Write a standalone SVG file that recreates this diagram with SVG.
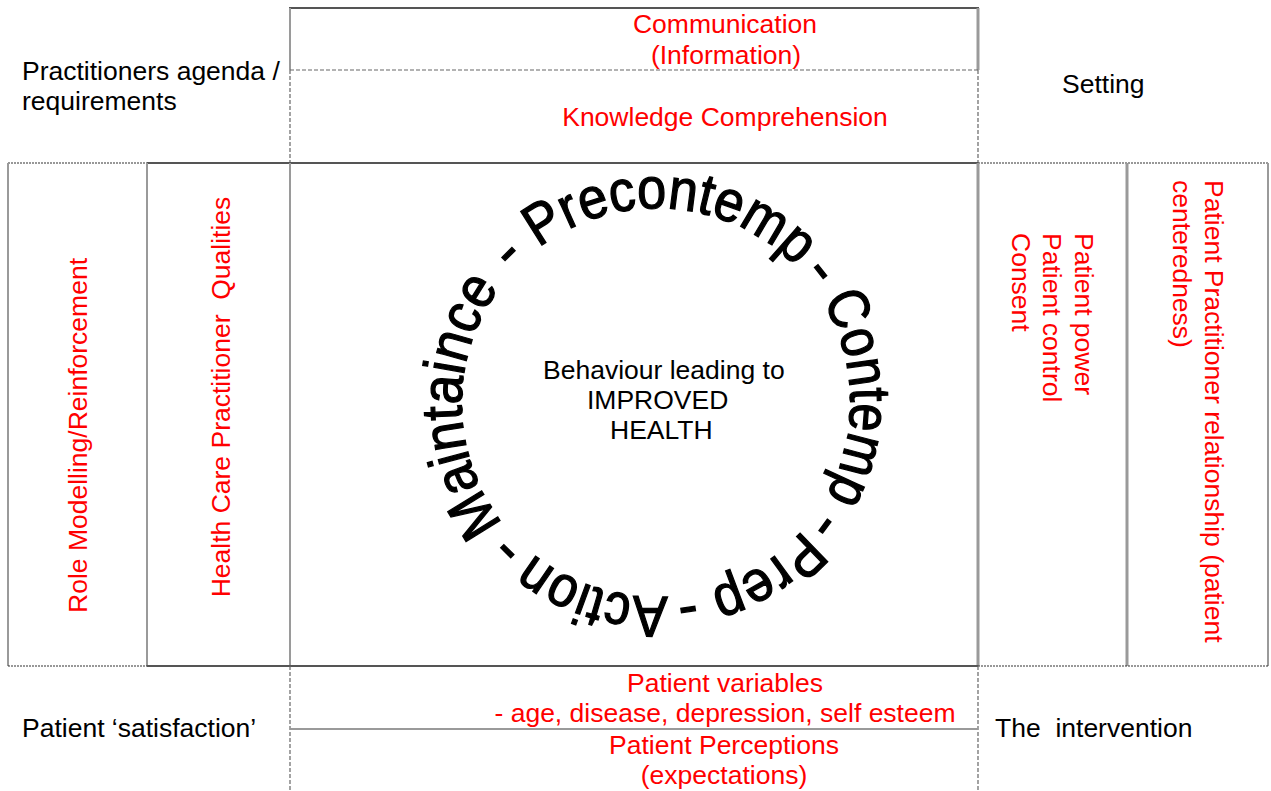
<svg xmlns="http://www.w3.org/2000/svg" width="1271" height="791" viewBox="0 0 1271 791">
<defs>
<style>
.t{font-family:"Liberation Sans",Arial,sans-serif;font-size:26.5px;fill:#000}
.r{fill:#ff0000}
.c{text-anchor:middle}
.solid{stroke:#555;stroke-width:2;fill:none}
.gray{stroke:#9a9a9a;stroke-width:2;fill:none}
.thick{stroke:#9a9a9a;stroke-width:3;fill:none}
.dot{stroke:#333;stroke-width:1.2;stroke-dasharray:2 1;fill:none}
.dash{stroke:#666;stroke-width:1.2;stroke-dasharray:4 2;fill:none}
.ring{font-family:"Liberation Sans",Arial,sans-serif;font-size:58px;fill:#000;stroke:#000;stroke-width:1.3;text-anchor:middle}
</style>
<path id="ringPath" d="M798.6,269.5 A195,195 0 0 1 513.4,535.5 A195,195 0 0 1 798.6,269.5"/>
</defs>
<rect width="1271" height="791" fill="#fff"/>
<g id="frame">
<line class="solid" x1="289" y1="8" x2="979" y2="8"/>
<line class="gray" x1="290" y1="8" x2="290" y2="70"/>
<line class="thick" x1="978" y1="8" x2="978" y2="70"/>
<line class="dash" x1="290" y1="70" x2="978" y2="70"/>
<line class="dash" x1="290" y1="70" x2="290" y2="163"/>
<line class="dash" x1="978" y1="70" x2="978" y2="163"/>
<line class="dot" x1="8" y1="163" x2="147" y2="163"/>
<line class="solid" x1="147" y1="163" x2="978" y2="163"/>
<line class="dot" x1="978" y1="163" x2="1268" y2="163"/>
<line class="gray" x1="8" y1="163" x2="8" y2="666"/>
<line class="gray" x1="147" y1="163" x2="147" y2="666"/>
<line class="gray" x1="290" y1="163" x2="290" y2="666"/>
<line class="thick" x1="978" y1="163" x2="978" y2="666"/>
<line class="thick" x1="1127" y1="163" x2="1127" y2="666"/>
<line class="gray" x1="1268" y1="163" x2="1268" y2="666"/>
<line class="dot" x1="8" y1="666" x2="147" y2="666"/>
<line class="solid" x1="147" y1="666" x2="978" y2="666"/>
<line class="dot" x1="978" y1="666" x2="1268" y2="666"/>
<line class="dash" x1="290" y1="666" x2="290" y2="791"/>
<line class="dash" x1="978" y1="666" x2="978" y2="791"/>
<line class="gray" x1="290" y1="729" x2="978" y2="729"/>
</g>
<g id="connectors"/>
<g id="practitioners-agenda">
<text class="t" x="22" y="80">Practitioners agenda /</text>
<text class="t" x="22" y="110">requirements</text>
</g>
<g id="communication">
<text class="t r c" x="725" y="33">Communication</text>
<text class="t r c" x="726" y="64">(Information)</text>
</g>
<g id="knowledge">
<text class="t r c" x="725" y="126">Knowledge Comprehension</text>
</g>
<g id="setting">
<text class="t" x="1062" y="93">Setting</text>
</g>
<g id="role-modelling">
<text class="t r c" transform="translate(87,435.5) rotate(-90)" x="0" y="0">Role Modelling/Reinforcement</text>
</g>
<g id="hcp-qualities">
<text class="t r c" transform="translate(229.5,397) rotate(-90)" x="0" y="0" xml:space="preserve">Health Care Practitioner  Qualities</text>
</g>
<g id="patient-power">
<text class="t r" transform="translate(1075,233) rotate(90)"><tspan x="0" y="0">Patient power</tspan><tspan x="0" y="31.7">Patient control</tspan><tspan x="0" y="63.4">Consent</tspan></text>
</g>
<g id="patient-relationship">
<text class="t r" transform="translate(1205,180) rotate(90)"><tspan x="0" y="0">Patient Practitioner relationship (patient</tspan><tspan x="0" y="31.7">centeredness)</tspan></text>
</g>
<g id="stages-ring">
<text class="ring"><textPath href="#ringPath" startOffset="15.3">-</textPath></text>
<text class="ring"><textPath href="#ringPath" startOffset="141.6" textLength="205" lengthAdjust="spacingAndGlyphs">Contemp</textPath></text>
<text class="ring"><textPath href="#ringPath" startOffset="268.5">-</textPath></text>
<text class="ring"><textPath href="#ringPath" startOffset="340.3" textLength="112" lengthAdjust="spacingAndGlyphs">Prep</textPath></text>
<text class="ring"><textPath href="#ringPath" startOffset="420.7">-</textPath></text>
<text class="ring"><textPath href="#ringPath" startOffset="511.2" textLength="144.5" lengthAdjust="spacingAndGlyphs">Action</textPath></text>
<text class="ring"><textPath href="#ringPath" startOffset="603.4">-</textPath></text>
<text class="ring"><textPath href="#ringPath" startOffset="752.2" textLength="253" lengthAdjust="spacingAndGlyphs">Maintaince</textPath></text>
<text class="ring"><textPath href="#ringPath" startOffset="909">-</textPath></text>
<text class="ring"><textPath href="#ringPath" startOffset="1075.8" textLength="282" lengthAdjust="spacingAndGlyphs">Precontemp</textPath></text>
</g>
<g id="behaviour">
<text class="t" x="543" y="379">Behaviour leading to</text>
<text class="t" x="587" y="409">IMPROVED</text>
<text class="t" x="610" y="439">HEALTH</text>
</g>
<g id="patient-variables">
<text class="t r c" x="725" y="692">Patient variables</text>
<text class="t r c" x="725" y="722">- age, disease, depression, self esteem</text>
</g>
<g id="patient-perceptions">
<text class="t r c" x="724" y="754">Patient Perceptions</text>
<text class="t r c" x="724" y="784">(expectations)</text>
</g>
<g id="patient-satisfaction">
<text class="t" x="22" y="737">Patient ‘satisfaction’</text>
</g>
<g id="intervention">
<text class="t" x="995" y="737" xml:space="preserve">The  intervention</text>
</g>
</svg>
